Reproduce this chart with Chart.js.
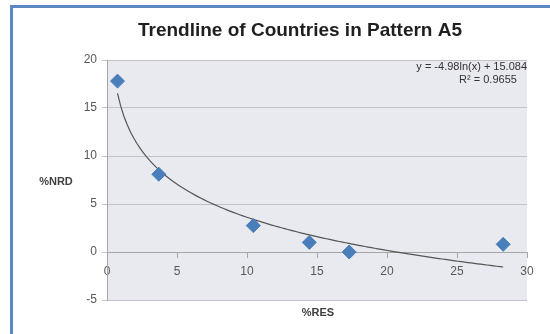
<!DOCTYPE html>
<html>
<head>
<meta charset="utf-8">
<script src="https://cdn.jsdelivr.net/npm/chart.js@4/dist/chart.umd.min.js"></script>
<style>
  html, body { margin: 0; padding: 0; background: #ffffff; }
  #wrap { width: 550px; height: 334px; position: relative; }
</style>
</head>
<body>
<div id="wrap"><canvas id="c" width="550" height="334"></canvas></div>
<script>
// Country observations: share of RES (x) against share of NRD (y)
const resPct = [0.75, 3.7, 10.45, 14.45, 17.3, 28.3];
const nrdPct = [17.8, 8.1, 2.75, 1.0, 0.0, 0.8];

// Logarithmic trendline y = a ln(x) + b, as reported on the chart
const trendA = -4.98;
const trendB = 15.084;
const trendR2 = 0.9655;

// Axis ranges and tick spacing
const xTicks = [0, 5, 10, 15, 20, 25, 30];
const yTicks = [-5, 0, 5, 10, 15, 20];

const chartTitle = 'Trendline of Countries in Pattern A5';
const xTitle = '%RES';
const yTitle = '%NRD';

const points = resPct.map((x, i) => ({ x: x, y: nrdPct[i] }));

// Sample the fitted curve across the span of the observations
const trendPoints = [];
const xFrom = Math.min(...resPct), xTo = Math.max(...resPct);
const steps = 120;
for (let i = 0; i <= steps; i++) {
  const x = xFrom + (xTo - xFrom) * i / steps;
  trendPoints.push({ x: x, y: trendA * Math.log(x) + trendB });
}

const fmt = (v) => (v < 0 ? '-' : '') + Math.abs(v);
const eqText = 'y = ' + trendA + 'ln(x) + ' + trendB;
const r2Text = 'R\u00B2 = ' + trendR2;

const FONT = '"Liberation Sans", Arial, sans-serif';

// Frame, plot-area fill and the free-standing texts
const decor = {
  id: 'decor',
  beforeDraw(chart) {
    const ctx = chart.ctx, a = chart.chartArea;
    ctx.save();
    ctx.fillStyle = '#ffffff';
    ctx.fillRect(0, 0, chart.width, chart.height);
    ctx.strokeStyle = '#5b87c2';
    ctx.lineWidth = 3;
    ctx.strokeRect(11.5, 6.5, 560, 360);
    ctx.fillStyle = '#e9e9f0';
    ctx.fillRect(a.left, a.top, a.right - a.left, a.bottom - a.top);
    ctx.restore();
  },
  afterDraw(chart) {
    const ctx = chart.ctx, a = chart.chartArea;
    ctx.save();
    ctx.fillStyle = '#1f1f1f';
    ctx.font = 'bold 19px ' + FONT;
    ctx.textAlign = 'center';
    ctx.textBaseline = 'middle';
    ctx.fillText(chartTitle, 300, 31);

    ctx.fillStyle = '#404040';
    ctx.font = 'bold 11px ' + FONT;
    ctx.fillText(yTitle, 56, 182);
    ctx.fillText(xTitle, 318, 313);

    ctx.font = '11px ' + FONT;
    ctx.fillStyle = '#333333';
    ctx.textAlign = 'right';
    ctx.fillText(eqText, a.right, a.top + 7);
    ctx.textAlign = 'center';
    ctx.fillText(r2Text, 488, a.top + 20);
    ctx.restore();
  }
};

new Chart(document.getElementById('c'), {
  type: 'scatter',
  data: {
    datasets: [
      {
        type: 'line',
        data: trendPoints,
        borderColor: '#555555',
        borderWidth: 1.2,
        pointRadius: 0,
        tension: 0,
        fill: false,
        order: 2
      },
      {
        data: points,
        pointStyle: 'rectRot',
        pointRadius: 7,
        pointHoverRadius: 7,
        backgroundColor: '#4a7ebb',
        borderColor: '#4a7ebb',
        borderWidth: 1,
        order: 1
      }
    ]
  },
  options: {
    responsive: false,
    animation: false,
    events: [],
    layout: { padding: { left: 62, right: 23, top: 60, bottom: 34 } },
    plugins: { legend: { display: false }, title: { display: false }, tooltip: { enabled: false } },
    scales: {
      x: {
        type: 'linear',
        position: { y: 0 },
        min: xTicks[0],
        max: xTicks[xTicks.length - 1],
        afterBuildTicks: (s) => { s.ticks = xTicks.map(v => ({ value: v })); },
        grid: { drawOnChartArea: false, drawTicks: true, tickLength: 5, color: '#a6a6a6' },
        border: { display: true, color: '#a6a6a6', width: 1 },
        ticks: { color: '#595959', font: { family: FONT, size: 12 }, padding: 7, maxRotation: 0, callback: fmt }
      },
      y: {
        type: 'linear',
        position: 'left',
        min: yTicks[0],
        max: yTicks[yTicks.length - 1],
        afterBuildTicks: (s) => { s.ticks = yTicks.map(v => ({ value: v })); },
        afterFit: (s) => { s.width = 45; },
        grid: { drawTicks: true, tickLength: 5, color: '#c4c1cc' },
        border: { display: true, color: '#a6a6a6', width: 1 },
        ticks: { color: '#595959', font: { family: FONT, size: 12 }, padding: 5, callback: fmt }
      }
    }
  },
  plugins: [decor]
});
</script>
</body>
</html>
